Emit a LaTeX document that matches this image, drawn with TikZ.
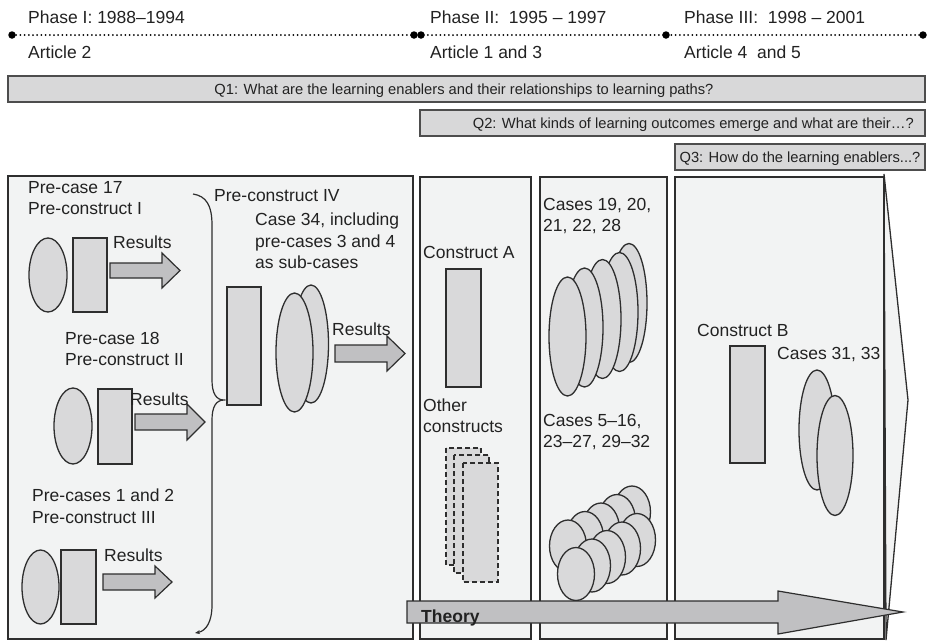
\documentclass[tikz,border=0pt]{standalone}
\usepackage{fontspec}
\setmainfont{Liberation Sans}
\usetikzlibrary{arrows.meta}
\definecolor{panelbg}{HTML}{F2F3F3}
\definecolor{shapefill}{HTML}{D9D9DA}
\definecolor{arrowfill}{HTML}{C0C0C2}
\definecolor{edge}{HTML}{2E2E2E}
\definecolor{txt}{HTML}{222222}
\definecolor{barfill}{HTML}{D8D8D9}
\tikzset{
 panel/.style={draw=edge, fill=panelbg, line width=1.3pt},
 shp/.style={draw=edge, fill=shapefill, line width=1.3pt},
 blockarrow/.style={draw=edge, fill=arrowfill, line width=1.2pt, line join=miter},
 qbar/.style={draw=edge!85, fill=barfill, line width=1.4pt},
 lbl/.style={anchor=base west, inner sep=0pt, text=txt, font=\fontsize{17.5}{21}\selectfont},
 qlbl/.style={anchor=base, inner sep=0pt, text=txt, font=\fontsize{14.7}{17}\selectfont},
 dashedbox/.style={draw=edge, fill=shapefill, line width=1.3pt, dash pattern=on 5pt off 3pt},
 tdot/.style={circle, fill=black, inner sep=0pt, minimum size=7.5pt},
 dottedline/.style={line width=2pt, line cap=round, dash pattern=on 0pt off 4.2pt},
}
\begin{document}
\begin{tikzpicture}[x=1pt,y=-1pt]
\useasboundingbox (0,0) rectangle (929,641);
\fill[white] (0,0) rectangle (929,641);

% ---- timeline ----
\node[tdot] (d1) at (12,35) {};
\node[tdot] (d2) at (414,35) {};
\node[tdot] (d3) at (421,35) {};
\node[tdot] (d4) at (666,35) {};
\node[tdot] (d5) at (923,35) {};
\draw[dottedline] (d1.center) -- (d5.center);
\node[lbl] (ph1) at (28,23) {Phase I: 1988\textendash1994};
\node[lbl] (ar1) at (28,58) {Article 2};
\node[lbl] (ph2) at (430,23) {Phase II:\ \ 1995 \textendash\ 1997};
\node[lbl] (ar2) at (430,58) {Article 1 and 3};
\node[lbl] (ph3) at (684,23) {Phase III:\ \ 1998 \textendash\ 2001};
\node[lbl] (ar3) at (684,58) {Article 4\ \ and 5};

% ---- question bars ----
\draw[qbar] (8,76) rectangle (925,102);
\node[qlbl] (q1) at (464,94.5) {Q1: What are the learning enablers and their relationships to learning paths?};
\draw[qbar] (420,110) rectangle (925,136);
\node[qlbl, anchor=base east] (q2) at (914,128.5) {Q2: What kinds of learning outcomes emerge and what are their\textellipsis?};
\draw[qbar] (675,144) rectangle (925,170);
\node[qlbl] (q3) at (800,162.5) {Q3: How do the learning enablers...?};

% ---- panels ----
\draw[panel] (8,176) rectangle (413,639);
\draw[panel] (420,177) rectangle (531,639);
\draw[panel] (540,177) rectangle (667,639);
\draw[panel] (884,174) -- (908,400) -- (886,640) -- cycle;
\draw[panel] (675,177) rectangle (884,639);

% ---- panel 1 ----
\draw[shp] (48,275) ellipse [x radius=19pt, y radius=37pt];
\draw[shp] (73,238) rectangle (107,312);
\draw[blockarrow] (110,263) -- (162,263) -- (162,253) -- (180,270.5) -- (162,288) -- (162,278) -- (110,278) -- cycle;

\draw[shp] (73,426) ellipse [x radius=19pt, y radius=38pt];
\draw[shp] (98,389) rectangle (132,464);
\draw[blockarrow] (135,414) -- (187,414) -- (187,404) -- (205,422) -- (187,440) -- (187,430) -- (135,430) -- cycle;

\draw[shp] (40.5,587) ellipse [x radius=18.5pt, y radius=37pt];
\draw[shp] (61,550) rectangle (96,624);
\draw[blockarrow] (103,574) -- (155,574) -- (155,566) -- (172,582) -- (155,598) -- (155,590) -- (103,590) -- cycle;

\draw[edge, line width=1.2pt, -{Stealth[length=5pt,width=4pt]}]
  (193,194) .. controls (206,196) and (212,205) .. (212,225) -- (212,380)
  .. controls (212,393) and (216,400) .. (224,400)
  .. controls (216,400) and (212,407) .. (212,420) -- (212,605)
  .. controls (212,622) and (206,631) .. (195,633);

\draw[shp] (227,287) rectangle (261,405);
\draw[shp] (311,344) ellipse [x radius=17.5pt, y radius=59pt];
\draw[shp] (294.5,352.5) ellipse [x radius=18.5pt, y radius=59.5pt];
\draw[blockarrow] (335,345) -- (387,345) -- (387,336) -- (405,353.5) -- (387,371) -- (387,362) -- (335,362) -- cycle;

\node[lbl] (t1a) at (28,193) {Pre-case 17};
\node[lbl] (t1b) at (28,214) {Pre-construct I};
\node[lbl] (r1) at (113,248) {Results};
\node[lbl] (t2a) at (65,344) {Pre-case 18};
\node[lbl] (t2b) at (65,365) {Pre-construct II};
\node[lbl] (r2) at (130,405) {Results};
\node[lbl] (t3a) at (32,501) {Pre-cases 1 and 2};
\node[lbl] (t3b) at (32,523) {Pre-construct III};
\node[lbl] (r3) at (104,561) {Results};
\node[lbl] (t4) at (214,201) {Pre-construct IV};
\node[lbl] (t4a) at (255,225) {Case 34, including};
\node[lbl] (t4b) at (255,247) {pre-cases 3 and 4};
\node[lbl] (t4c) at (255,268) {as sub-cases};
\node[lbl] (r4) at (332,335) {Results};

% ---- panel 2 ----
\draw[shp] (446,269) rectangle (481,387);
\draw[dashedbox] (446,448) rectangle (481,565);
\draw[dashedbox] (454,455) rectangle (489,573);
\draw[dashedbox] (463,463) rectangle (498,582);
\node[lbl] (ca) at (423,258) {Construct A};
\node[lbl] (oc1) at (423,411) {Other};
\node[lbl] (oc2) at (423,432) {constructs};

% ---- panel 3 ----
\draw[shp] (629,303) ellipse [x radius=18pt, y radius=59.5pt];
\draw[shp] (619.5,312) ellipse [x radius=18.5pt, y radius=59.5pt];
\draw[shp] (602.5,319) ellipse [x radius=18.5pt, y radius=59.5pt];
\draw[shp] (584.5,327.5) ellipse [x radius=18.5pt, y radius=59.5pt];
\draw[shp] (567.5,336.5) ellipse [x radius=18.5pt, y radius=59.5pt];
\node[lbl] (c1a) at (543,210) {Cases 19, 20,};
\node[lbl] (c1b) at (543,231) {21, 22, 28};

\foreach \cx/\cy in {632/512, 617/520.5, 601/529, 585/537.5, 568/546}
  \draw[shp] (\cx,\cy) ellipse [x radius=18.5pt, y radius=26pt];
\foreach \cx/\cy in {637/540, 622/548.5, 607/557, 592/565.5, 576/574}
  \draw[shp] (\cx,\cy) ellipse [x radius=18.5pt, y radius=26.5pt];
\node[lbl] (c2a) at (543,426) {Cases 5\textendash16,};
\node[lbl] (c2b) at (543,447) {23\textendash27, 29\textendash32};

% ---- panel 4 ----
\draw[shp] (730,346) rectangle (765,463);
\draw[shp] (817,430) ellipse [x radius=18pt, y radius=60pt];
\draw[shp] (835,455.5) ellipse [x radius=18pt, y radius=60pt];
\node[lbl] (cb) at (697,336) {Construct B};
\node[lbl] (c3) at (777,359) {Cases 31, 33};

% ---- theory arrow ----
\draw[blockarrow] (407,601) -- (778,601) -- (778,591) -- (903,612) -- (778,634) -- (778,623) -- (407,623) -- cycle;
\node[lbl, font=\fontsize{17.5}{21}\selectfont\bfseries] (th) at (421,622) {Theory};
\end{tikzpicture}
\end{document}
